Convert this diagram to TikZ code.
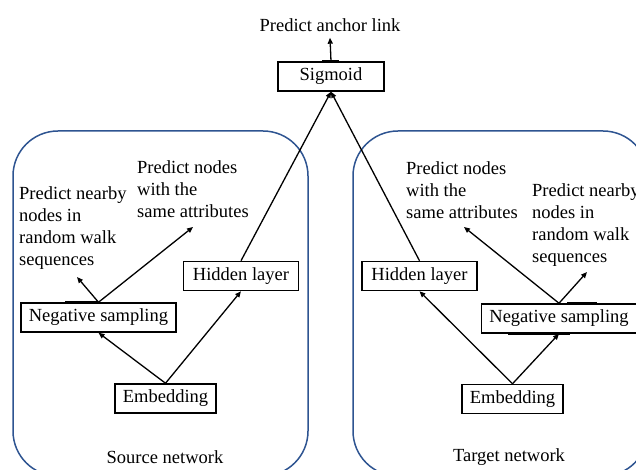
\documentclass[tikz,border=0pt]{standalone}
\usepackage{fontspec}
\setmainfont{Liberation Serif}
\usetikzlibrary{arrows.meta}
\definecolor{netblue}{RGB}{46,84,145}
\tikzset{
  box/.style={draw,line width=1.5pt,minimum height=29pt,inner sep=0pt},
  arr/.style={line width=1.3pt,-{Triangle[length=6pt,width=5pt]}},
  txt/.style={align=left,anchor=north west,inner sep=0pt},
  frame/.style={netblue,line width=1.5pt,rounded corners=45pt},
}

\begin{document}
\begin{tikzpicture}[x=1pt,y=-1pt,font=\fontsize{18.5}{22}\selectfont]
\clip (0,0) rectangle (636,470);
\fill[white] (0,0) rectangle (636,470);
% two networks
\draw[frame] (13,131) rectangle (308,476);
\draw[frame] (353,131) rectangle (648,476);
\node (src) at (165,457) {Source network};
\node (tgt) at (509,457) {Target network};

\node[inner xsep=0pt,inner ysep=6pt] (link) at (330,25) {Predict anchor link};
\node[box,minimum width=106pt] (sig) at (331,76.5) {Sigmoid};

\node[box,minimum width=115pt] (hidL) at (241,276) {Hidden layer};
\node[box,minimum width=115pt] (hidR) at (419.5,276) {Hidden layer};
\node[box,minimum width=155pt] (negL) at (98.5,317.5) {Negative sampling};
\node[box,minimum width=155pt] (negR) at (559,318.5) {Negative sampling};
\node[box,minimum width=101pt] (embL) at (165.5,398.5) {Embedding};
\node[box,minimum width=101pt] (embR) at (512.5,399) {Embedding};

\node[txt] (lnear) at (19,186) {Predict nearby\\nodes in\\random walk\\sequences};
\node[txt] (lattr) at (137,160) {Predict nodes\\with the\\same attributes};
\node[txt] (rattr) at (406,161) {Predict nodes\\with the\\same attributes};
\node[txt] (rnear) at (532,183) {Predict nearby\\nodes in\\random walk\\sequences};

\coordinate (tipA) at (77,277); %arrow ends under the texts
\coordinate (tipB) at (193,227);
\coordinate (tipC) at (464,227);
\coordinate (tipD) at (587,272);

% thick marks on the box edges
\draw[line width=3pt] ([xshift=-9pt]sig.north) -- ([xshift=8pt]sig.north);
\draw[line width=3pt] ([xshift=-33.5pt]negL.north) -- ([xshift=-1.5pt]negL.north);
\draw[line width=3pt] ([xshift=8pt]negR.north) -- ([xshift=38pt]negR.north);
\draw[line width=3pt] ([xshift=-51pt]negR.south) -- ([xshift=11pt]negR.south);

\draw[arr] (sig.north) -- (link.south);
\draw[arr] (hidL.north) -- (sig.south);
\draw[arr] (hidR.north) -- (sig.south);
\draw[arr] (embL.north) -- (negL.south);
\draw[arr] (embL.north) -- (hidL.south);
\draw[arr] (embR.north) -- (hidR.south);
\draw[arr] (embR.north) -- (negR.south);
\draw[arr] (negL.north) -- (tipA);
\draw[arr] (negL.north) -- (tipB);
\draw[arr] (negR.north) -- (tipC);
\draw[arr] (negR.north) -- (tipD);
\end{tikzpicture}
\end{document}
